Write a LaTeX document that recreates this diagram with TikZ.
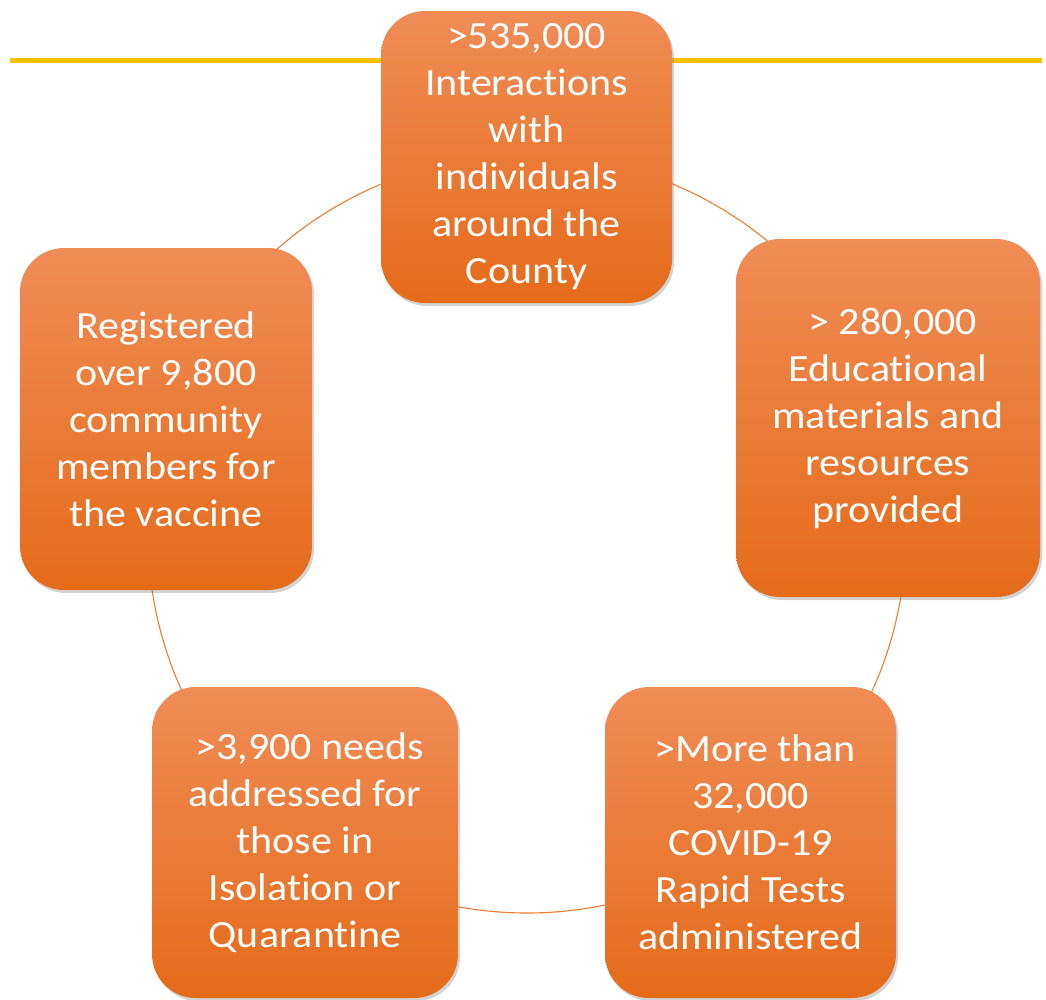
\documentclass[tikz,border=0pt]{standalone}
\usepackage{fontspec}
\setmainfont{Carlito}[Ligatures=NoCommon,FakeStretch=1.09]
\usetikzlibrary{shadows}
\definecolor{ringline}{HTML}{ED7D31}
\definecolor{rulegold}{HTML}{FFC000}
\definecolor{boxtop}{RGB}{240,140,86}
\definecolor{boxmid}{RGB}{244,126,44}
\definecolor{boxbot}{RGB}{229,107,26}

\begin{document}
\begin{tikzpicture}[x=1pt,y=-1pt,
  stat node/.style={rounded corners=44pt,top color=boxtop,middle color=boxmid,bottom color=boxbot,
    draw=none,text=white,align=center,inner sep=0pt,font=\fontsize{38.5}{47}\selectfont,
    drop shadow={opacity=0.35,shadow xshift=2pt,shadow yshift=-3pt}},
  ring/.style={draw=ringline,line width=1.1pt}]

  \useasboundingbox (0,0) rectangle (1046,999);
  \draw[rulegold,line width=5pt] (10,60.5) -- (1042,60.5);

  \coordinate (hub) at (527,534);
  \draw[ring] (hub) circle (379);

  \node[stat node,minimum width=291pt,minimum height=292pt] (inter) at (526.5,157)
    {>535,000\\Interactions\\with\\individuals\\around the\\County};
  \node[stat node,minimum width=304pt,minimum height=358pt] (edu) at (888,418)
    {\ > 280,000\\Educational\\materials and\\resources\\provided};
  \node[stat node,minimum width=291pt,minimum height=311pt] (tests) at (750.5,842.5)
    {\ >More than\\32,000\\COVID-19\\Rapid Tests\\administered};
  \node[stat node,minimum width=306pt,minimum height=311pt] (needs) at (305,842.5)
    {\ >3,900 needs\\addressed for\\those in\\Isolation or\\Quarantine};
  \node[stat node,minimum width=292pt,minimum height=342pt] (vacc) at (166,419)
    {Registered\\over 9,800\\community\\members for\\the vaccine};
\end{tikzpicture}
\end{document}
